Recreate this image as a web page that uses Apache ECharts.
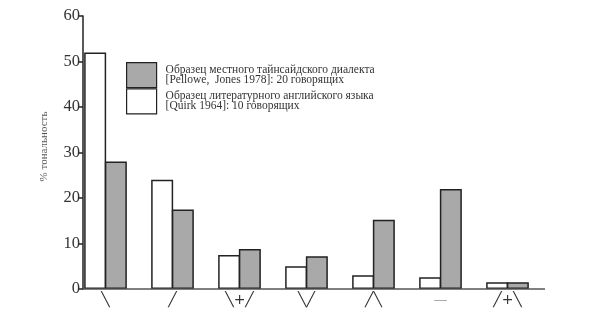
<!DOCTYPE html>
<html>
<head>
<meta charset="utf-8">
<script src="https://cdn.jsdelivr.net/npm/echarts@6/dist/echarts.min.js"></script>
<style>html,body{margin:0;padding:0;background:#fff;}#c{width:598px;height:327px;}</style>
</head>
<body>
<div id="c"></div>
<script>
var categories = ['╲', '╱', '╲+╱', '╲╱', '╱╲', '—', '╱+╲'];
var quirkValues = [52, 24, 7.5, 5, 3, 2.6, 1.5];
var tynesideValues = [28, 17.5, 8.8, 7.2, 15.2, 22, 1.5];
var yTicks = [0, 10, 20, 30, 40, 50, 60];
var tynesideName = 'Образец местного тайнсайдского диалекта\n[Pellowe,  Jones 1978]: 20 говорящих';
var quirkName = 'Образец литературного английского языка\n[Quirk 1964]: 10 говорящих';

var serif = '"Liberation Serif", "DejaVu Serif", serif';
var chart = echarts.init(document.getElementById('c'));
var option = {
  animation: false,
  backgroundColor: '#fff',
  grid: { left: 72, width: 469, top: 16, bottom: 38, containLabel: false },
  legend: {
    orient: 'vertical', left: 126, top: 62, padding: 0,
    itemWidth: 30, itemHeight: 25, itemGap: 0,
    icon: 'rect',
    itemStyle: { borderWidth: 1.2, borderColor: '#222' },
    data: [tynesideName, quirkName],
    textStyle: { fontFamily: serif, fontSize: 11.5, lineHeight: 10, color: '#333', padding: [0, 0, 0, 4] }
  },
  xAxis: {
    type: 'category', data: categories,
    axisLine: { show: false }, axisTick: { show: false },
    axisLabel: {
      margin: 4, fontFamily: '"DejaVu Sans", sans-serif', fontSize: 14, color: '#333',
      formatter: function (v) { return v === '—' ? '{g|' + v + '}' : v; },
      rich: { g: { color: '#aaa', fontSize: 14, fontFamily: '"DejaVu Sans", sans-serif' } }
    }
  },
  yAxis: {
    type: 'value', min: yTicks[0], max: yTicks[yTicks.length - 1], interval: 10,
    offset: -11,
    name: '% тональность', nameLocation: 'middle', nameGap: 33,
    nameTextStyle: { fontFamily: serif, fontSize: 11, color: '#555', padding: [0, 0, 0, 12] },
    axisLine: { show: true, lineStyle: { color: '#222', width: 1.5 } },
    axisTick: { show: true, length: 4, lineStyle: { color: '#222', width: 1.5 } },
    axisLabel: { margin: 3, fontFamily: serif, fontSize: 16.5, color: '#333' },
    splitLine: { show: false }
  },
  series: [
    { name: quirkName, type: 'bar', data: quirkValues, barWidth: 22, barGap: '-6%',
      itemStyle: { color: '#ffffff', borderColor: '#222', borderWidth: 1.5 } },
    { name: tynesideName, type: 'bar', data: tynesideValues, barWidth: 22, barGap: '-6%',
      itemStyle: { color: '#a9a9a9', borderColor: '#222', borderWidth: 1.5 } }
  ]
};
chart.setOption(option);
var y0 = chart.convertToPixel({ yAxisIndex: 0 }, 0);
var xStart = 72 + 11;
chart.setOption({
  graphic: [{
    type: 'line', shape: { x1: xStart, y1: y0, x2: xStart + 462, y2: y0 },
    style: { stroke: '#555', lineWidth: 1.5 }, z: 10
  }]
});
</script>
</body>
</html>
